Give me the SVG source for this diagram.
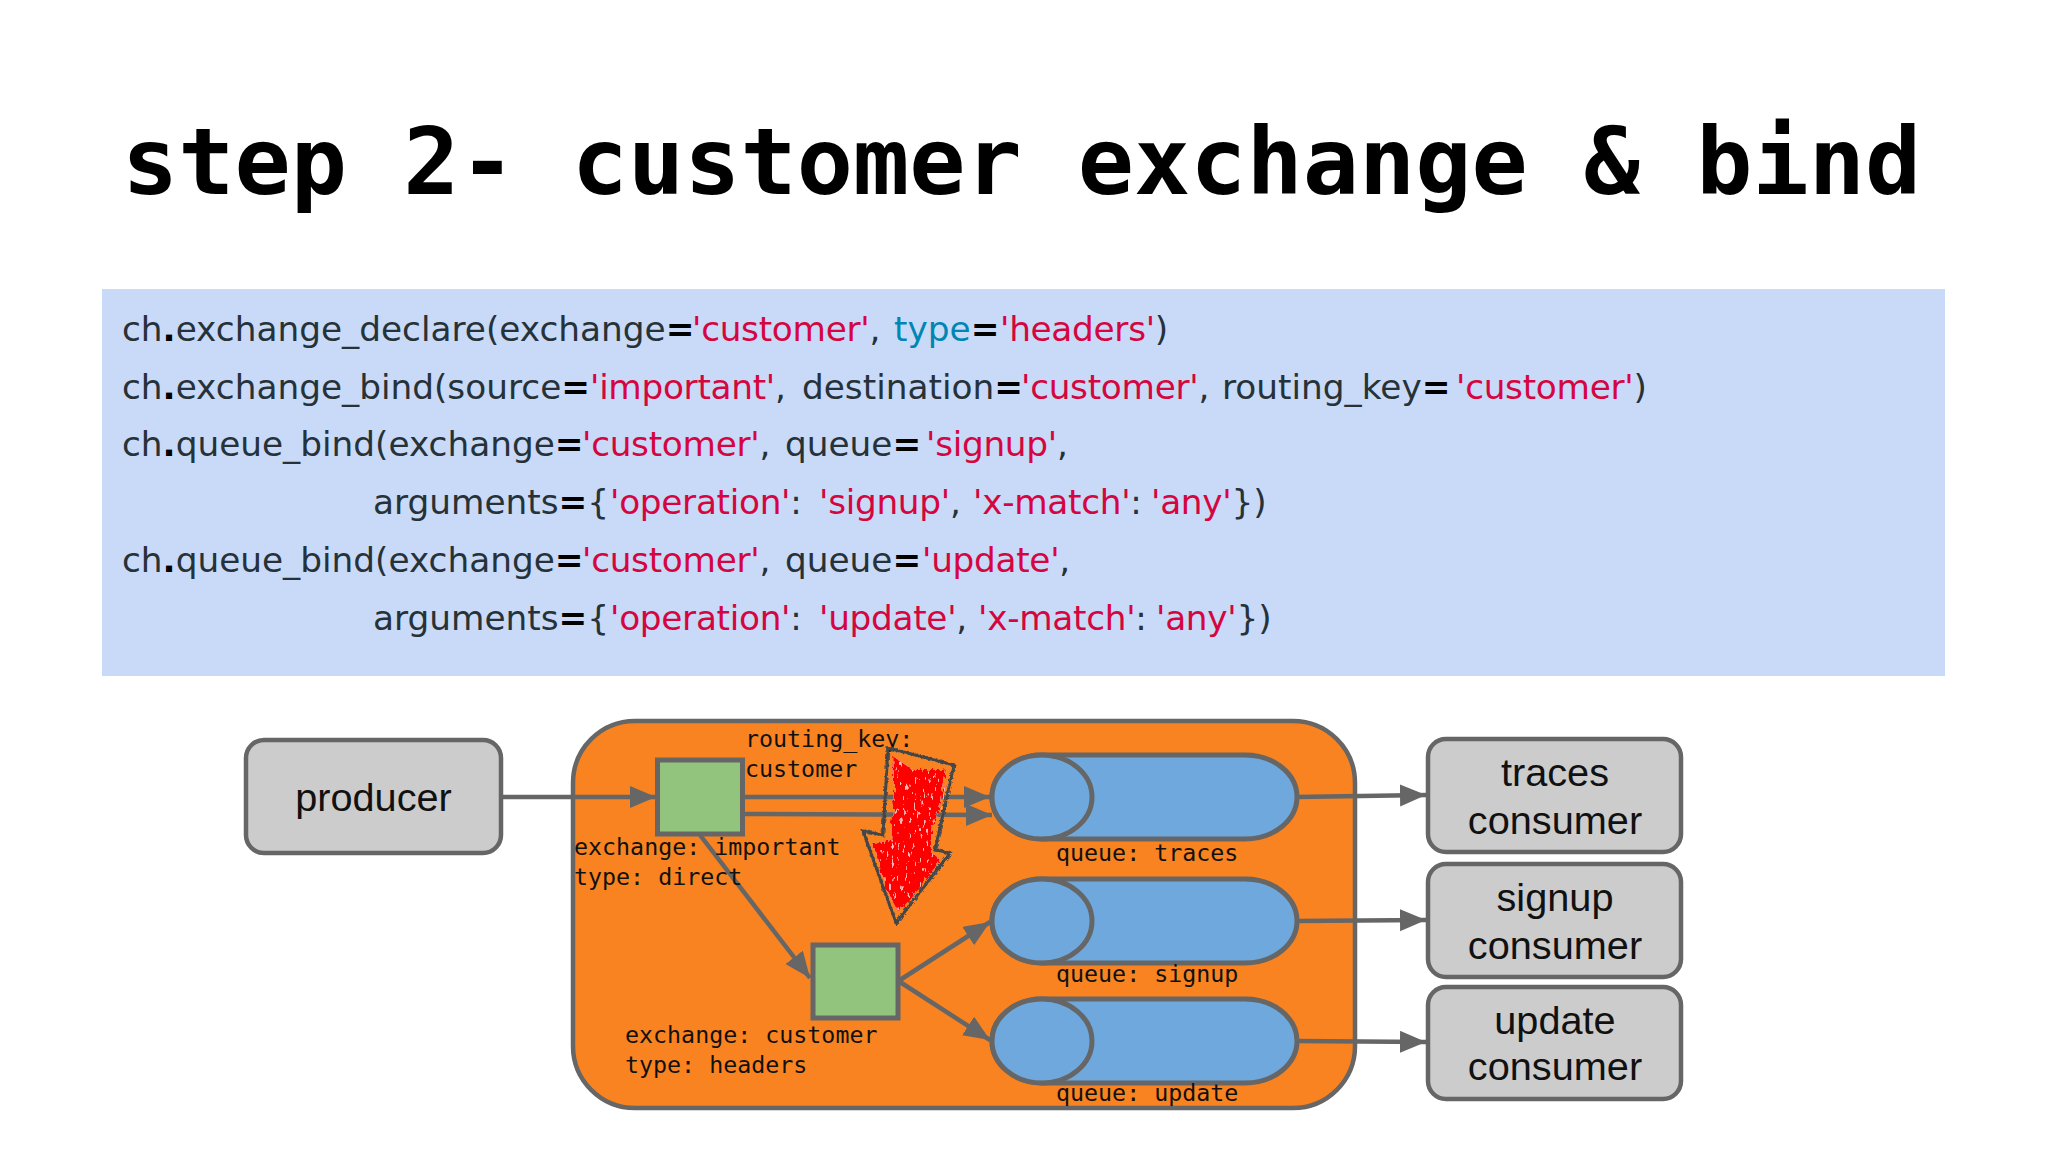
<svg xmlns="http://www.w3.org/2000/svg" width="2048" height="1152" viewBox="0 0 2048 1152">
<defs>
<style>
.t{font-family:"DejaVu Sans Mono","Liberation Mono",monospace;font-size:23.3px;fill:#111}
.c{font-family:"DejaVu Sans",sans-serif;font-size:34.3px;fill:#263238}
.c .e{fill:#000;font-weight:bold}
.c .s{fill:#d5063f;letter-spacing:-0.3px}
.c .k{fill:#0086b3}
.b{font-family:"Liberation Sans",Arial,sans-serif;font-size:39.7px;fill:#111;text-anchor:middle}
.box{fill:#ccc;stroke:#666;stroke-width:4.5}
.ex{fill:#93c47d;stroke:#666;stroke-width:5}
.q{fill:#6fa8dc;stroke:#666;stroke-width:5}
.l{fill:none;stroke:#666;stroke-width:4.5;marker-end:url(#a)}
</style>
<marker id="a" markerUnits="userSpaceOnUse" markerWidth="30" markerHeight="24" refX="26" refY="11" orient="auto"><path d="M0 0L26 11L0 22Z" fill="#666"/></marker>
<filter id="rough" x="-10%" y="-10%" width="120%" height="120%"><feTurbulence type="fractalNoise" baseFrequency="0.25" numOctaves="2" seed="4"/><feDisplacementMap in="SourceGraphic" scale="5"/></filter>
<filter id="rough2" x="-10%" y="-10%" width="120%" height="120%"><feTurbulence type="fractalNoise" baseFrequency="0.4" numOctaves="2" seed="11"/><feDisplacementMap in="SourceGraphic" scale="4"/></filter>
<filter id="crayon" x="-10%" y="-10%" width="120%" height="120%"><feTurbulence type="fractalNoise" baseFrequency="0.35 0.12" numOctaves="3" seed="7" result="n"/><feDisplacementMap in="SourceGraphic" in2="n" scale="7" result="d"/><feColorMatrix in="n" type="matrix" values="0 0 0 0 0 0 0 0 0 0 0 0 0 0 0 0 0 0 -14 4.6" result="h"/><feComposite in="d" in2="h" operator="out" result="o"/><feFlood flood-color="#ffb8b8"/><feComposite in2="d" operator="in" result="bg"/><feMerge><feMergeNode in="bg"/><feMergeNode in="o"/></feMerge></filter>
</defs>
<rect width="2048" height="1152" fill="#fff"/>
<text id="title" x="122" y="194" font-family="DejaVu Sans Mono,monospace" font-weight="bold" font-size="93.4" fill="#000">step 2- customer exchange &amp; bind</text>
<g id="code">
<rect x="102" y="289" width="1843" height="387" fill="#c9daf8"/>
<text class="c" x="122" y="341">ch<tspan class="e">.</tspan>exchange_declare(exchange<tspan class="e">=</tspan><tspan class="s" x="692">'customer'</tspan>,<tspan class="k" x="894">type</tspan><tspan class="e">=</tspan><tspan class="s" x="1000">'headers'</tspan>)</text>
<text class="c" x="122" y="399">ch<tspan class="e">.</tspan>exchange_bind(source<tspan class="e">=</tspan><tspan class="s" x="590">'important'</tspan>,<tspan x="802">destination</tspan><tspan class="e">=</tspan><tspan class="s" x="1021">'customer'</tspan>,<tspan x="1222">routing_key</tspan><tspan class="e">=</tspan><tspan class="s" x="1456">'customer'</tspan>)</text>
<text class="c" x="122" y="456">ch<tspan class="e">.</tspan>queue_bind(exchange<tspan class="e">=</tspan><tspan class="s" x="582">'customer'</tspan>,<tspan x="785">queue</tspan><tspan class="e">=</tspan><tspan class="s" x="926">'signup'</tspan>,</text>
<text class="c" x="373" y="514">arguments<tspan class="e">=</tspan>{<tspan class="s" x="610">'operation'</tspan>:<tspan class="s" x="819">'signup'</tspan>,<tspan class="s" x="973">'x-match'</tspan>:<tspan class="s" x="1151">'any'</tspan>})</text>
<text class="c" x="122" y="572">ch<tspan class="e">.</tspan>queue_bind(exchange<tspan class="e">=</tspan><tspan class="s" x="582">'customer'</tspan>,<tspan x="785">queue</tspan><tspan class="e">=</tspan><tspan class="s" x="922">'update'</tspan>,</text>
<text class="c" x="373" y="630">arguments<tspan class="e">=</tspan>{<tspan class="s" x="610">'operation'</tspan>:<tspan class="s" x="819">'update'</tspan>,<tspan class="s" x="978">'x-match'</tspan>:<tspan class="s" x="1156">'any'</tspan>})</text>
</g>
<g id="broker"><rect x="573" y="721" width="782" height="387" rx="62" fill="#f98320" stroke="#666" stroke-width="4.5"/></g>
<g id="producer"><rect class="box" x="246" y="740" width="255" height="113" rx="18"/><text class="b" x="373.500" y="811">producer</text></g>
<g id="traces-consumer"><rect class="box" x="1428" y="739" width="253" height="113" rx="18"/><text class="b" x="1555" y="786">traces</text><text class="b" x="1555" y="834">consumer</text></g>
<g id="signup-consumer"><rect class="box" x="1428" y="864" width="253" height="113" rx="18"/><text class="b" x="1555" y="911">signup</text><text class="b" x="1555" y="959">consumer</text></g>
<g id="update-consumer"><rect class="box" x="1428" y="987" width="253" height="112" rx="18"/><text class="b" x="1555" y="1034">update</text><text class="b" x="1555" y="1080">consumer</text></g>
<g id="connectors">
<path class="l" d="M501 797L656 797"/>
<path class="l" d="M743 797L990 797"/>
<path class="l" d="M743 814L992 815"/>
<path class="l" d="M700 835L810 978"/>
<path class="l" d="M900 980L990 922"/>
<path class="l" d="M900 982L990 1040"/>
<path class="l" d="M1296 797L1426 795"/>
<path class="l" d="M1296 921L1426 920"/>
<path class="l" d="M1296 1041L1426 1042"/>
</g>
<g id="exchange-important"><rect class="ex" x="657.500" y="760" width="85" height="74"/><text class="t" x="574" y="855">exchange: important</text><text class="t" x="574" y="885">type: direct</text></g>
<g id="exchange-customer"><rect class="ex" x="813" y="945" width="85" height="73"/><text class="t" x="625" y="1043">exchange: customer</text><text class="t" x="625" y="1073">type: headers</text></g>
<text class="t" x="745" y="747">routing_key:</text>
<text class="t" x="745" y="777">customer</text>
<g id="queue-traces"><path class="q" d="M1042 755H1245A52 42 0 0 1 1245 839H1042A50 42 0 0 1 1042 755Z"/><ellipse class="q" cx="1042" cy="797" rx="50" ry="42"/><text class="t" x="1056" y="861">queue: traces</text></g>
<g id="queue-signup"><path class="q" d="M1042 879H1245A52 42 0 0 1 1245 963H1042A50 42 0 0 1 1042 879Z"/><ellipse class="q" cx="1042" cy="921" rx="50" ry="42"/><text class="t" x="1056" y="982">queue: signup</text></g>
<g id="queue-update"><path class="q" d="M1042 999H1245A52 42 0 0 1 1245 1083H1042A50 42 0 0 1 1042 999Z"/><ellipse class="q" cx="1042" cy="1041" rx="50" ry="42"/><text class="t" x="1056" y="1101">queue: update</text></g>
<g id="red-arrow">
<path d="M893 756L913 770L946 770L941 803L933 827L931 852L941 860L909 902L898 911L886 889L873 844L891 840L894 790Z" fill="#f00" filter="url(#crayon)"/>
<path d="M888 748L954 765L935 850L950 853L896 923L863 831L883 835Z" fill="none" stroke="#555" stroke-width="3" filter="url(#rough)"/>
<path d="M888 748L954 765L935 850L950 853L896 923L863 831L883 835Z" fill="none" stroke="#444" stroke-width="2.500" filter="url(#rough2)"/>
</g>
</svg>
